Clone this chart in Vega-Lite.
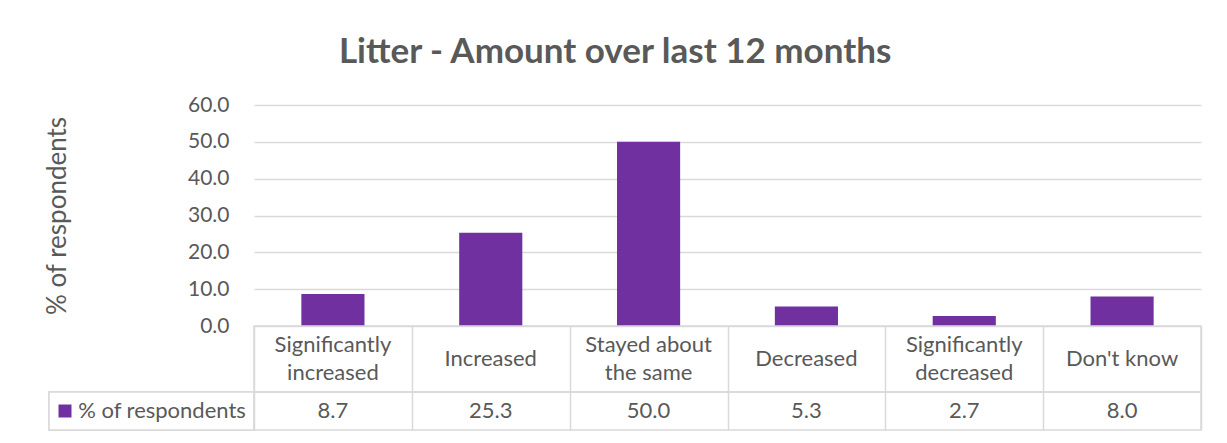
{
  "$schema": "https://vega.github.io/schema/vega-lite/v6.json",
  "background": "white",
  "padding": {"left": 44, "top": 35, "right": 5, "bottom": 5},
  "title": {"text": "Litter - Amount over last 12 months", "font": "Lato", "fontSize": 35, "fontWeight": "bold", "color": "#595959", "anchor": "middle", "offset": 24, "dx": -8},
  "config": {
    "view": {"stroke": "#d9d9d9", "strokeWidth": 1.5},
    "text": {"font": "Lato", "fontSize": 22, "color": "#595959"}
  },
  "datasets": {
    "survey": [
      {"category": "Significantly\nincreased", "value": 8.7},
      {"category": "Increased", "value": 25.3},
      {"category": "Stayed about\nthe same", "value": 50.0},
      {"category": "Decreased", "value": 5.3},
      {"category": "Significantly\ndecreased", "value": 2.7},
      {"category": "Don't know", "value": 8.0}
    ],
    "series": [{"series": "% of respondents"}]
  },
  "spacing": 0,
  "bounds": "flush",
  "columns": 2,
  "concat": [
    {
      "width": 205, "height": 221,
      "view": {"stroke": null},
      "data": {"values": [{}]},
      "mark": {"type": "text"},
      "encoding": {"text": {"value": ""}}
    },
    {
      "width": 947, "height": 221,
      "view": {"stroke": null},
      "data": {"name": "survey"},
      "mark": {"type": "bar", "color": "#7030A0"},
      "encoding": {
        "x": {"field": "category", "type": "nominal", "sort": null, "scale": {"paddingInner": 0.6, "paddingOuter": 0.3}, "axis": null},
        "y": {"field": "value", "type": "quantitative", "scale": {"domain": [0, 60]},
          "axis": {"values": [0, 10, 20, 30, 40, 50, 60], "format": ".1f", "title": "% of respondents", "grid": true, "gridColor": "#d9d9d9", "gridWidth": 1.5, "domain": false, "ticks": false, "labelPadding": 25, "labelFont": "Lato", "labelFontSize": 21, "labelColor": "#595959", "titleFont": "Lato", "titleFontSize": 26, "titleFontWeight": "normal", "titleColor": "#595959", "titlePadding": 117}}
      }
    },
    {
      "width": 205, "height": 66,
      "view": {"stroke": null},
      "data": {"values": [{}]},
      "mark": {"type": "text"},
      "encoding": {"text": {"value": ""}}
    },
    {
      "width": 947, "height": 66,
      "data": {"name": "survey"},
      "encoding": {
        "x": {"field": "category", "type": "nominal", "sort": null,
          "scale": {"paddingInner": 0, "paddingOuter": 0, "domain": ["Significantly\nincreased", "Increased", "Stayed about\nthe same", "Decreased", "Significantly\ndecreased", "Don't know"]},
          "axis": {"grid": true, "tickBand": "extent", "gridColor": "#d9d9d9", "gridWidth": 1.5, "labels": false, "ticks": false, "domain": false, "title": null}},
        "text": {"field": "category"}
      },
      "layer": [
        {
          "transform": [{"filter": "indexof(datum.category, '\\n') < 0"}],
          "mark": {"type": "text"}
        },
        {
          "transform": [{"filter": "indexof(datum.category, '\\n') >= 0"}],
          "mark": {"type": "text", "lineBreak": "\n", "lineHeight": 28, "dy": -14}
        }
      ]
    },
    {
      "width": 205, "height": 38,
      "view": {"stroke": "#d9d9d9", "strokeWidth": 1.5},
      "data": {"name": "series"},
      "layer": [
        {
          "mark": {"type": "rect", "fill": "white", "stroke": "#d9d9d9", "strokeWidth": 1.5},
          "encoding": {}
        },
        {
          "mark": {"type": "point", "shape": "square", "filled": true, "size": 169, "color": "#7030A0", "opacity": 1, "xOffset": -86.5},
          "encoding": {}
        },
        {
          "mark": {"type": "text", "dx": 10.5},
          "encoding": {"text": {"field": "series"}}
        }
      ]
    },
    {
      "width": 947, "height": 38,
      "data": {"name": "survey"},
      "mark": {"type": "text"},
      "encoding": {
        "x": {"field": "category", "type": "nominal", "sort": null, "scale": {"paddingInner": 0, "paddingOuter": 0},
          "axis": {"grid": true, "tickBand": "extent", "gridColor": "#d9d9d9", "gridWidth": 1.5, "labels": false, "ticks": false, "domain": false, "title": null}},
        "text": {"field": "value", "type": "quantitative", "format": ".1f"}
      }
    }
  ]
}
